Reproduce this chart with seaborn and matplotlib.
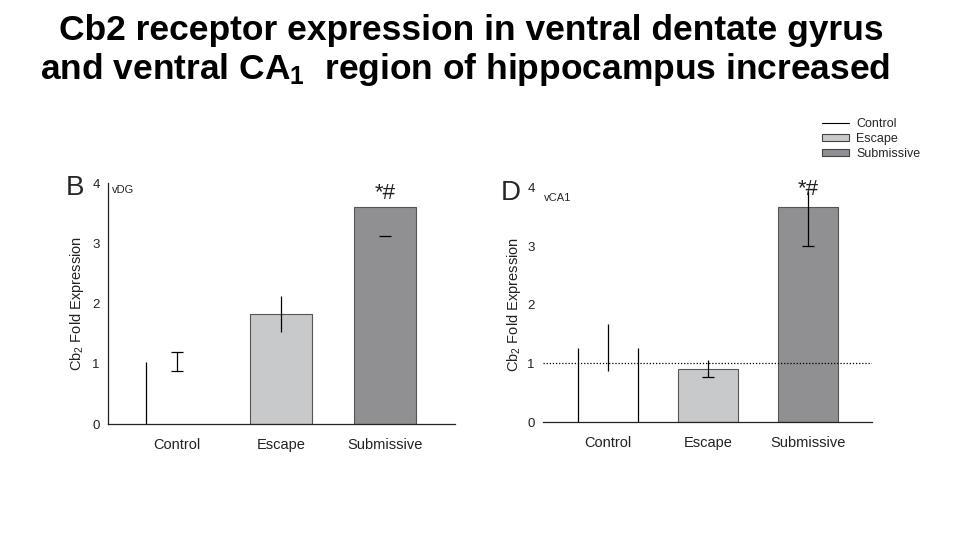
import numpy as np
import pandas as pd
import matplotlib
matplotlib.use("Agg")
import matplotlib.pyplot as plt
import seaborn as sns
from matplotlib.patches import Patch
from matplotlib.lines import Line2D

sns.set_style("white")
plt.rcParams['font.family'] = ['Liberation Sans', 'DejaVu Sans']
plt.rcParams['mathtext.default'] = 'regular'

groups = ["Control", "Escape", "Submissive"]
colors = ["white", "#c8c9cb", "#8f9093"]

# vDG panel (B)
dg_values = [1.03, 1.82, 3.60]
dg_low = [0.88, 1.52, 3.12]
dg_high = [1.20, 2.12, 3.12]

# vCA1 panel (D)
ca_values = [1.27, 0.91, 3.67]
ca_low = [0.87, 0.77, 3.00]
ca_high = [1.68, 1.06, 3.95]

fig = plt.figure(figsize=(9.6, 5.4), dpi=100)

fig.text(0.491, 0.944, "Cb2 receptor expression in ventral dentate gyrus",
         ha='center', va='center', fontsize=25.5, fontweight='bold', color='black')
fig.text(0.484, 0.872, "and ventral CA$_1$  region of hippocampus increased",
         ha='center', va='center', fontsize=25.5, fontweight='bold', color='black')


def panel(ax, values, low, high, caps, star_y):
    df = pd.DataFrame({"group": groups, "value": values})
    sns.barplot(data=df, x="group", y="value", hue="group", palette=colors,
                width=0.6, ax=ax, legend=False, errorbar=None,
                edgecolor="#555555", linewidth=0.8)
    ax.set_ylim(0, 4)
    ax.set_yticks([0, 1, 2, 3, 4])
    ax.set_xlabel("")
    ax.set_ylabel("Cb$_2$ Fold Expression", fontsize=10.5, color="#222222")
    ax.tick_params(axis='both', labelsize=9.5, colors="#222222", length=0, pad=6)
    ax.tick_params(axis='x', pad=10, labelsize=10.5)
    for s in ["top", "right"]:
        ax.spines[s].set_visible(False)
    for s in ["left", "bottom"]:
        ax.spines[s].set_color("#222222")
        ax.spines[s].set_linewidth(0.9)
    # control bar drawn white, outline added on its sides only
    ctrl = ax.patches[0]
    ctrl.set_edgecolor("white")
    xs = np.arange(len(groups))
    for i, (lo, hi, cap) in enumerate(zip(low, high, caps)):
        if hi > lo:
            ax.vlines(xs[i], lo, hi, color="black", lw=0.9)
        if cap in ("low", "both"):
            ax.hlines(lo, xs[i] - 0.06, xs[i] + 0.06, color="black", lw=0.9)
        if cap == "both":
            ax.hlines(hi, xs[i] - 0.06, xs[i] + 0.06, color="black", lw=0.9)
    ax.text(xs[2], star_y, "*#", ha='center', va='center', fontsize=16,
            color="#222222")
    return ctrl


ax1 = fig.add_axes([0.1125, 0.2148, 0.3615, 0.4463])
c1 = panel(ax1, dg_values, dg_low, dg_high, ["both", "none", "low"], 3.82)
ax1.vlines(c1.get_x(), 0, c1.get_height(), color="black", lw=0.9)
ax1.set_xlim(-0.66, 2.67)
ax1.yaxis.set_label_coords(-0.063, 0.5)
fig.text(0.078, 0.652, "B", fontsize=20, ha='center', va='center')
fig.text(0.117, 0.648, "vDG", fontsize=8, ha='left', va='center')

ax2 = fig.add_axes([0.5656, 0.2185, 0.3427, 0.4335])
c2 = panel(ax2, ca_values, ca_low, ca_high, ["none", "low", "low"], 3.97)
ax2.vlines([c2.get_x(), c2.get_x() + c2.get_width()], 0, c2.get_height(),
           color="black", lw=0.9)
ax2.axhline(1, ls=(0, (1, 1.5)), color="black", lw=0.9, zorder=1)
ax2.set_xlim(-0.65, 2.64)
ax2.spines["left"].set_visible(False)
ax2.yaxis.set_label_coords(-0.062, 0.5)
fig.text(0.532, 0.643, "D", fontsize=20, ha='center', va='center')
fig.text(0.567, 0.633, "vCA1", fontsize=8, ha='left', va='center')

handles = [Line2D([0], [0], color="black", lw=0.8)]
handles += [Patch(facecolor=c, edgecolor="#444444", linewidth=0.8) for c in colors[1:]]
fig.legend(handles, groups, loc='upper left', bbox_to_anchor=(0.850, 0.793),
           frameon=False, fontsize=9, handlelength=2.1, handleheight=0.5,
           labelspacing=0.22, handletextpad=0.6, borderpad=0)

fig.savefig("out.png", dpi=100)
